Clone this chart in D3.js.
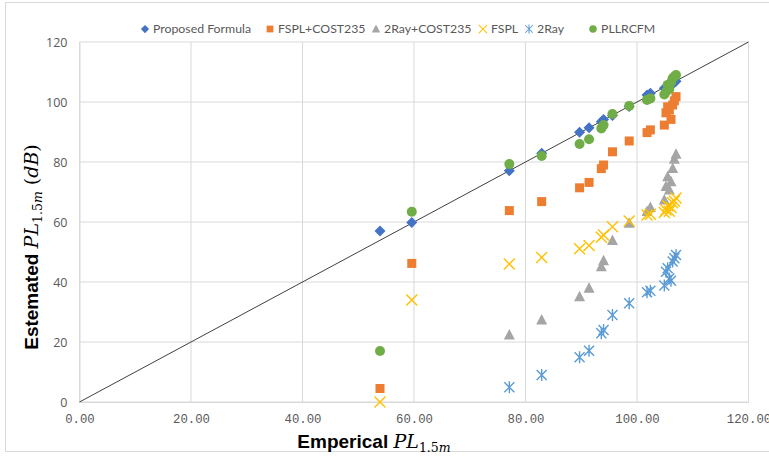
<!DOCTYPE html>
<meta charset="utf-8">
<style>
body { margin: 0; background: #fff; }
.tick text { fill: #595959; }
.grid line { stroke: #d9d9d9; }
.legend text { font-family: Lato, sans-serif; font-size: 12.3px; fill: #595959; }
</style>
<svg width="769" height="457"></svg>
<script src="https://d3js.org/d3.v7.min.js"></script>
<script>

// empirical path loss (x) shared by all series
var empirical = [53.9, 59.6, 77.1, 82.9, 89.7, 91.4, 93.6, 94.0, 95.6, 98.6,
                 101.8, 102.4, 104.9, 105.2, 105.5, 105.8, 106.1, 106.4, 106.7, 107.0];

var proposed  = [57.0, 59.8, 77.1, 82.9, 89.9, 91.4, 93.4, 94.2, 95.5, 98.5,
                 102.3, 102.9, 104.6, 104.8, 105.3, 105.6, 106.0, 106.2, 106.5, 106.9];
var fsplCost  = [4.5, 46.2, 63.8, 66.8, 71.4, 73.2, 77.8, 79.0, 83.4, 87.0,
                 89.8, 90.7, 92.3, 96.4, 98.4, 97.3, 94.2, 99.0, 100.4, 101.8];
var rayCost   = [null, null, 22.3, 27.3, 35.1, 37.9, 45.1, 47.1, 53.8, 59.6,
                 63.5, 64.8, 67.3, 71.8, 75.1, 70.7, 73.4, 77.8, 80.9, 82.6];
var fspl      = [0.0, 34.0, 46.0, 48.2, 51.1, 52.2, 54.9, 55.7, 58.4, 60.3,
                 62.3, 62.6, 63.2, 64.0, 65.4, 63.6, 64.8, 66.4, 67.0, 68.0];
var twoRay    = [null, null, 4.9, 9.0, 14.9, 17.1, 22.9, 24.0, 29.0, 32.9,
                 36.6, 37.1, 38.8, 43.4, 44.6, 41.2, 40.4, 46.8, 47.9, 49.0];
var pllrcfm   = [17.0, 63.4, 79.3, 82.0, 86.0, 87.6, 91.2, 92.3, 96.0, 98.7,
                 100.7, 101.2, 102.5, 103.4, 105.7, 104.3, 106.5, 107.9, 108.5, 109.0];

var xTicks = [0, 20, 40, 60, 80, 100, 120];
var yTicks = [0, 20, 40, 60, 80, 100, 120];

var series = [
  {name: "Proposed Formula", values: proposed, color: "#4472C4", shape: "diamond"},
  {name: "FSPL+COST235",     values: fsplCost, color: "#ED7D31", shape: "square"},
  {name: "2Ray+COST235",     values: rayCost,  color: "#A5A5A5", shape: "triangle"},
  {name: "FSPL",             values: fspl,     color: "#FFC000", shape: "x"},
  {name: "2Ray",             values: twoRay,   color: "#5B9BD5", shape: "star"},
  {name: "PLLRCFM",          values: pllrcfm,  color: "#70AD47", shape: "circle"}
];
// legend marker positions
var legendX = [145, 270, 376, 483, 529, 593];

var svg = d3.select("svg");

// outer chart border
svg.append("rect")
    .attr("x", 5.5).attr("y", 2.5)
    .attr("width", 775).attr("height", 449)
    .attr("fill", "none").attr("stroke", "#d9d9d9");

var x = d3.scaleLinear().domain([0, 120]).range([79.5, 748.5]),
    y = d3.scaleLinear().domain([0, 120]).range([402, 42]);

// gridlines
svg.append("g").attr("class", "grid")
  .selectAll("line").data(yTicks).enter().append("line")
    .attr("x1", x(0)).attr("x2", x(120))
    .attr("y1", function(d) { return y(d); }).attr("y2", function(d) { return y(d); });
svg.append("g").attr("class", "grid")
  .selectAll("line").data(xTicks).enter().append("line")
    .attr("y1", y(0)).attr("y2", y(120))
    .attr("x1", function(d) { return x(d); }).attr("x2", function(d) { return x(d); });

// axes
var xAxis = svg.append("g")
    .attr("transform", "translate(0," + y(0) + ")")
    .call(d3.axisBottom(x).tickValues(xTicks).tickSize(0).tickPadding(12)
      .tickFormat(d3.format(".2f")));
xAxis.select(".domain").attr("stroke", "#d9d9d9");
xAxis.selectAll("text").style("font-family", "'Liberation Mono', monospace").style("font-size", "12.3px");

var yAxis = svg.append("g")
    .attr("transform", "translate(" + x(0) + ",0)")
    .call(d3.axisLeft(y).tickValues(yTicks).tickSize(0).tickPadding(12));
yAxis.select(".domain").attr("stroke", "#d9d9d9");
yAxis.selectAll("text").style("font-family", "'Open Sans', sans-serif").style("font-size", "12.5px");

// y = x reference line
svg.append("line")
    .attr("x1", x(0)).attr("y1", y(0))
    .attr("x2", x(120)).attr("y2", y(120))
    .attr("stroke", "#404040").attr("stroke-width", 1);

function marker(sel, shape, color) {
  if (shape === "diamond") {
    sel.append("path").attr("d", "M0,-5.5L5.5,0L0,5.5L-5.5,0Z").attr("fill", color);
  } else if (shape === "square") {
    sel.append("rect").attr("x", -4.5).attr("y", -4.5).attr("width", 9).attr("height", 9).attr("fill", color);
  } else if (shape === "triangle") {
    sel.append("path").attr("d", "M0,-6L5.5,4.5L-5.5,4.5Z").attr("fill", color);
  } else if (shape === "circle") {
    sel.append("circle").attr("r", 5).attr("fill", color);
  } else if (shape === "x") {
    sel.append("path").attr("d", "M-5.5,-5.5L5.5,5.5M-5.5,5.5L5.5,-5.5")
      .attr("stroke", color).attr("stroke-width", 1.4).attr("fill", "none");
  } else if (shape === "star") {
    sel.append("path").attr("d", "M-5,-5L5,5M-5,5L5,-5M0,-6L0,6")
      .attr("stroke", color).attr("stroke-width", 1.4).attr("fill", "none");
  }
}

series.forEach(function(s) {
  var pts = empirical.map(function(e, i) { return {x: e, y: s.values[i]}; })
    .filter(function(d) { return d.y != null; });
  svg.append("g").selectAll("g").data(pts).enter().append("g")
      .attr("transform", function(d) { return "translate(" + x(d.x) + "," + y(d.y) + ")"; })
      .each(function() { marker(d3.select(this), s.shape, s.color); });
});

// legend
var legend = svg.append("g").attr("class", "legend");
series.forEach(function(s, i) {
  var g = legend.append("g").attr("transform", "translate(" + legendX[i] + ",29)");
  var m = g.append("g").attr("transform", "scale(0.75)");
  marker(m, s.shape, s.color);
  g.append("text").attr("x", 8).attr("dy", "0.35em").text(s.name);
});

// axis titles
function mathTitle(t, word, unit) {
  t.append("tspan").style("font-family", "'Liberation Sans', sans-serif")
      .style("font-weight", "bold").text(word + " ");
  t.append("tspan").style("font-family", "'DejaVu Serif', serif").style("font-style", "italic").text("PL");
  t.append("tspan").attr("dy", 4).style("font-family", "'DejaVu Serif', serif")
      .style("font-size", "12.5px").text("1.5");
  t.append("tspan").style("font-family", "'DejaVu Serif', serif").style("font-style", "italic")
      .style("font-size", "12.5px").text("m");
  if (unit) {
    t.append("tspan").attr("dy", -4).style("font-family", "'DejaVu Serif', serif").text(" (");
    t.append("tspan").style("font-family", "'DejaVu Serif', serif").style("font-style", "italic").text(unit);
    t.append("tspan").style("font-family", "'DejaVu Serif', serif").text(")");
  }
}

var xt = svg.append("text")
    .attr("x", 374).attr("y", 448)
    .attr("text-anchor", "middle")
    .style("font-size", "19px").style("fill", "#000");
mathTitle(xt, "Emperical", null);

var yt = svg.append("text")
    .attr("transform", "translate(38,247) rotate(-90)")
    .attr("text-anchor", "middle")
    .style("font-size", "19px").style("fill", "#000");
mathTitle(yt, "Estemated", "dB");

</script>
